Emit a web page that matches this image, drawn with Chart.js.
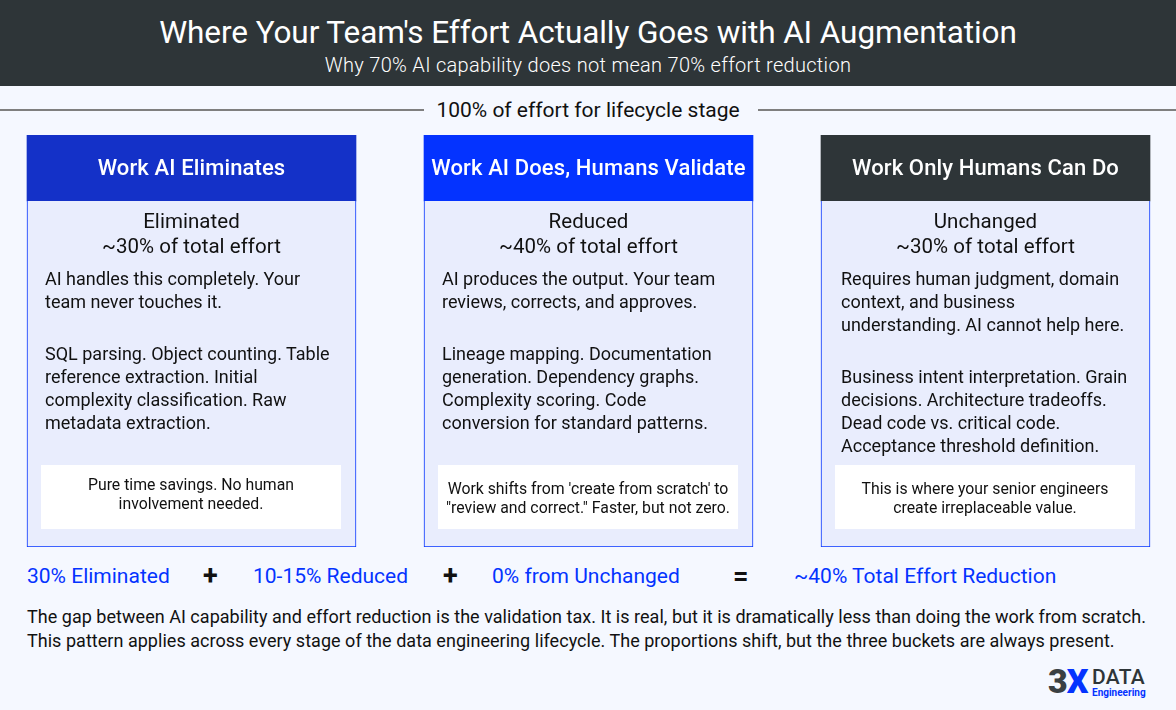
<!DOCTYPE html>
<html>
<head>
<meta charset="utf-8">
<title>Where Your Team's Effort Actually Goes with AI Augmentation</title>
<script src="https://cdn.jsdelivr.net/npm/chart.js@4"></script>
<style>
  html, body { margin: 0; padding: 0; }
  body { width: 1176px; height: 710px; position: relative; overflow: hidden; background: #f5f8ff; font-family: Roboto, sans-serif; color: #111; }
  #banner { position: absolute; left: 0; top: 0; width: 1176px; height: 86px; background: #2e3538; color: #fff; text-align: center; }
  #title { position: absolute; left: 0; right: 0; top: 13px; line-height: 40px; font-size: 31.5px; letter-spacing: -0.08px; }
  #subtitle { position: absolute; left: 0; right: 0; top: 52px; line-height: 26px; font-size: 20px; font-weight: 300; letter-spacing: 0.3px; }
  .rule { position: absolute; top: 109px; height: 2px; background: #7f7f7f; }
  #ruleLabel { position: absolute; left: 421px; width: 334px; top: 96px; line-height: 28px; text-align: center; font-size: 21px; }
  #chartCanvas { position: absolute; left: 0; top: 135px; }
  .col { position: absolute; top: 135px; width: 329px; height: 412px; }
  .head { position: absolute; left: 0; right: 0; top: 0; line-height: 65px; text-align: center; color: #fff; font-size: 22px; font-weight: 500; letter-spacing: 0.12px; white-space: nowrap; }
  .level { position: absolute; left: 0; right: 0; top: 74px; line-height: 25px; text-align: center; font-size: 20.5px; letter-spacing: 0.05px; }
  .desc, .list { position: absolute; line-height: 23px; font-size: 18px; white-space: nowrap; }
  .desc { top: 132px; }
  .note { position: absolute; left: 14px; width: 300px; top: 330px; height: 64px; background: #fff; text-align: center; font-size: 15.8px; line-height: 19px; white-space: nowrap; }
  .note span { position: absolute; left: 0; right: 0; }
  .term { position: absolute; top: 562px; line-height: 28px; font-size: 21px; color: #0433ff; white-space: nowrap; }
  .op { position: absolute; top: 562px; line-height: 28px; font-size: 27px; font-weight: 700; color: #111; }
  #footnote { position: absolute; left: 27px; top: 605px; line-height: 24px; font-size: 18px; letter-spacing: 0.03px; white-space: nowrap; }
  #logo { position: absolute; left: 1048px; top: 664px; width: 100px; height: 34px; }
  #logoMark { position: absolute; left: 0; top: 0; line-height: 34px; font-size: 34px; font-weight: 900; color: #3a4043; letter-spacing: -1px; }
  #logoMark b { color: #0433ff; font-weight: 900; }
  #logoName { position: absolute; left: 44px; top: 3px; line-height: 20px; font-size: 21px; font-weight: 500; color: #2e3538; letter-spacing: 0.3px; }
  #logoSub { position: absolute; left: 44px; top: 23px; line-height: 12px; font-size: 10px; font-weight: 700; color: #0433ff; }
</style>
</head>
<body>
<canvas id="chartCanvas" width="1176" height="412"></canvas>
<div id="banner">
  <div id="title">Where Your Team's Effort Actually Goes with AI Augmentation</div>
  <div id="subtitle">Why 70% AI capability does not mean 70% effort reduction</div>
</div>
<div class="rule" style="left:0;width:424px"></div>
<div id="ruleLabel">100% of effort for lifecycle stage</div>
<div class="rule" style="left:758px;width:418px"></div>
<div id="columns"></div>
<div id="equation"></div>
<div id="footnote">The gap between AI capability and effort reduction is the validation tax. It is real, but it is dramatically less than doing the work from scratch.<br>This pattern applies across every stage of the data engineering lifecycle. The proportions shift, but the three buckets are always present.</div>
<div id="logo">
  <div id="logoMark">3<b>X</b></div>
  <div id="logoName">DATA</div>
  <div id="logoSub">Engineering</div>
</div>
<script>
const categories = ["Work AI Eliminates", "Work AI Does, Humans Validate", "Work Only Humans Can Do"];
const levels = ["Eliminated", "Reduced", "Unchanged"];
const effortShares = ["~30%", "~40%", "~30%"];
const headerBand = [16, 16, 16];
const bodyBand = [84, 84, 84];
const headerColors = ["#1431c8", "#0433ff", "#2e3538"];

const descriptions = [
    ["AI handles this completely. Your", "team never touches it."],
    ["AI produces the output. Your team", "reviews, corrects, and approves."],
    ["Requires human judgment, domain", "context, and business", "understanding. AI cannot help here."],
];
const taskLists = [
    ["SQL parsing. Object counting. Table", "reference extraction. Initial", "complexity classification. Raw", "metadata extraction."],
    ["Lineage mapping. Documentation", "generation. Dependency graphs.", "Complexity scoring. Code", "conversion for standard patterns."],
    ["Business intent interpretation. Grain", "decisions. Architecture tradeoffs.", "Dead code vs. critical code.", "Acceptance threshold definition."],
];
const notes = [
    ["Pure time savings. No human", "involvement needed."],
    ["Work shifts from 'create from scratch' to", "\"review and correct.\" Faster, but not zero."],
    ["This is where your senior engineers", "create irreplaceable value."],
];
const equationTerms = ["30% Eliminated", "10-15% Reduced", "0% from Unchanged", "~40% Total Effort Reduction"];
const equationOps = ["+", "+", "="];

const colLefts = [27, 424, 821];
const textLefts = [18, 18, 20];
const listTops = [207, 207, 230];
const noteTops = [10, 14, 14];
const termLefts = [27, 253, 492, 794];
const opLefts = [203, 443, 733];

new Chart(document.getElementById("chartCanvas"), {
    type: "bar",
    data: {
        labels: categories,
        datasets: [
            {
                label: "Body",
                data: bodyBand,
                backgroundColor: "#e9edfd",
                borderColor: "#0433ff",
                borderWidth: 1,
                borderSkipped: "top",
                barThickness: 329,
                clip: false,
            },
            {
                label: "Header",
                data: headerBand,
                backgroundColor: headerColors,
                barThickness: 329,
                clip: false,
            },
        ],
    },
    options: {
        responsive: false,
        animation: false,
        layout: { padding: { left: 191.5, right: 190.5, top: 0, bottom: 0 } },
        plugins: { legend: { display: false }, tooltip: { enabled: false } },
        scales: {
            x: { stacked: true, display: false, offset: false },
            y: { stacked: true, display: false, min: 0, max: 100 },
        },
    },
});

const columns = document.getElementById("columns");
categories.forEach((category, i) => {
    const col = document.createElement("div");
    col.className = "col";
    col.style.left = colLefts[i] + "px";

    const noteLines = notes[i].map((line, n) =>
        `<span style="top:${noteTops[i] + n * 19}px">${line}</span>`).join("");

    col.innerHTML = `
        <div class="head">${category}</div>
        <div class="level">${levels[i]}<br>${effortShares[i]} of total effort</div>
        <div class="desc" style="left:${textLefts[i]}px">${descriptions[i].join("<br>")}</div>
        <div class="list" style="left:${textLefts[i]}px;top:${listTops[i]}px">${taskLists[i].join("<br>")}</div>
        <div class="note">${noteLines}</div>`;
    columns.appendChild(col);
});

const equation = document.getElementById("equation");
equationTerms.forEach((term, i) => {
    equation.insertAdjacentHTML("beforeend", `<div class="term" style="left:${termLefts[i]}px">${term}</div>`);
    if (i < equationOps.length) {
        equation.insertAdjacentHTML("beforeend", `<div class="op" style="left:${opLefts[i]}px">${equationOps[i]}</div>`);
    }
});
</script>
</body>
</html>
